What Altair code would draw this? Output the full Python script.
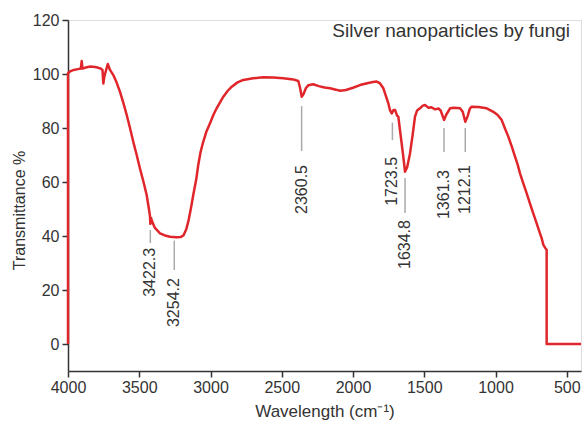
import altair as alt
import pandas as pd

# Spectrum (wavenumber cm-1, transmittance %)
wavenumber = [4000, 4000, 3985, 3960, 3930, 3910, 3904, 3898, 3870, 3840, 3800, 3770, 3758, 3752, 3745,
              3735, 3721, 3705, 3682, 3660, 3635, 3610, 3588, 3565, 3542, 3518, 3495, 3470, 3448, 3432,
              3425, 3422, 3418, 3410, 3390, 3354, 3320, 3284, 3240, 3210, 3190, 3170, 3156, 3140, 3121,
              3100, 3086, 3070, 3051, 3030, 3004, 2980, 2957, 2930, 2910, 2880, 2851, 2810, 2770, 2700,
              2630, 2560, 2489, 2420, 2384, 2372, 2360, 2348, 2330, 2314, 2279, 2240, 2200, 2161, 2120,
              2091, 2050, 2000, 1951, 1900, 1860, 1834, 1810, 1787, 1770, 1752, 1740, 1728, 1715, 1705,
              1690, 1682, 1665, 1647, 1635, 1620, 1600, 1580, 1565, 1550, 1530, 1510, 1495, 1470, 1450,
              1424, 1400, 1385, 1361, 1345, 1319, 1290, 1249, 1230, 1212, 1195, 1180, 1167, 1120, 1062,
              1015, 985, 957, 935, 910, 885, 863, 845, 828, 805, 781, 758, 735, 710, 688,
              675, 664, 650, 641, 641, 400]
transmittance = [0, 100.3, 101, 101.5, 101.8, 102, 104.8, 102, 102.5, 102.8, 102.5, 102, 101.5, 96.5, 99,
                 101, 103.7, 101.5, 99.6, 97, 93.4, 89, 84.8, 80, 74.9, 70, 65, 60, 55.2, 50,
                 47.5, 44.5, 46.8, 45.5, 43, 41, 40.2, 39.7, 39.5, 39.6, 40.2, 42.5, 45.3, 49.5, 55.2,
                 61, 66.3, 71, 74.9, 78.5, 81.7, 84.8, 87.3, 89.8, 91.6, 93.7, 95.3, 96.9, 97.8, 98.4,
                 98.8, 98.7, 98.4, 98, 97.4, 95, 91.6, 92.5, 94.8, 95.8, 96.2, 95.5, 95, 94.7, 94.2,
                 93.8, 94.1, 94.9, 95.9, 96.6, 97, 97.2, 96.5, 94.7, 92, 89.1, 86.5, 85.4, 86.7, 86.7,
                 84.5, 84.2, 77, 69.4, 63.8, 65.5, 70.6, 78, 84.2, 86.5, 87.3, 88.3, 88.5, 87.5, 87.7,
                 86.9, 87.2, 86.5, 83, 85, 87.3, 87.5, 87.3, 86, 82.3, 84.5, 87.2, 87.9, 87.8, 87.3,
                 86, 84.8, 83, 80, 76.8, 73, 69.4, 66.5, 63.2, 59.5, 55.8, 52, 48.4, 44.5, 41,
                 39, 36.7, 35.5, 34.8, 0, 0]

# Peak annotations
peak_pos = [3422.3, 3254.2, 2360.5, 1723.5, 1634.8, 1361.3, 1212.1]
peak_text = ["3422.3", "3254.2", "2360.5", "1723.5", "1634.8", "1361.3", "1212.1"]
line_top = [42.2, 38.3, 88.1, 82.0, 61.5, 80.0, 80.0]
line_bottom = [37.4, 27.4, 71.5, 75.5, 48.5, 71.1, 71.1]
text_top = [35.6, 24.4, 66.3, 69.3, 45.9, 64.4, 66.3]

title_text = "Silver nanoparticles by fungi"
x_ticks = list(range(4000, 499, -250))
y_ticks = list(range(0, 121, 10))

spec = pd.DataFrame({"w": wavenumber, "t": transmittance, "order": list(range(len(wavenumber)))})
peaks = pd.DataFrame({"w": peak_pos, "label": peak_text, "top": line_top,
                      "bottom": line_bottom, "ttop": text_top})

FONT = "Liberation Sans"
AX = "#333333"

xscale = alt.Scale(domain=[400, 4000], reverse=True, nice=False, zero=False)
yscale = alt.Scale(domain=[-10, 120], nice=False, zero=False)

xaxis = alt.Axis(
    values=x_ticks, title="Wavelength (cm⁻¹)", grid=False,
    labelExpr="datum.value % 500 === 0 ? datum.label : ''",
    format="d",
    tickSize={"condition": {"test": "datum.value % 500 === 0", "value": 6}, "value": 3},
    labelFontSize=16, titleFontSize=17, labelFont=FONT, titleFont=FONT,
    labelColor=AX, titleColor=AX, titleFontWeight="normal",
    domainColor=AX, tickColor=AX, domainWidth=1.5, tickWidth=1.5,
    labelPadding=2, titlePadding=8, labelFlush=False, labelOverlap=False,
)
yaxis = alt.Axis(
    values=y_ticks, title="Transmittance %", grid=False,
    labelExpr="datum.value % 20 === 0 ? datum.label : ''",
    tickSize={"condition": {"test": "datum.value % 20 === 0", "value": 6}, "value": 3},
    labelFontSize=16, titleFontSize=16, labelFont=FONT, titleFont=FONT,
    labelColor=AX, titleColor=AX, titleFontWeight="normal",
    domainColor=AX, tickColor=AX, domainWidth=1.5, tickWidth=1.5,
    labelPadding=3, titlePadding=5, titleY=190, labelFlush=False, labelOverlap=False,
)

line = alt.Chart(spec).mark_line(color="#e0262a", strokeWidth=2.5, strokeJoin="round").encode(
    x=alt.X("w:Q", scale=xscale, axis=xaxis),
    y=alt.Y("t:Q", scale=yscale, axis=yaxis),
    order="order:Q",
)

rules = alt.Chart(peaks).mark_rule(color="#aaaaaa", strokeWidth=1.5).encode(
    x=alt.X("w:Q", scale=xscale),
    y=alt.Y("top:Q", scale=yscale),
    y2="bottom:Q",
)

labels = alt.Chart(peaks).mark_text(
    angle=270, align="right", baseline="middle", font=FONT, fontSize=16, color=AX
).encode(
    x=alt.X("w:Q", scale=xscale),
    y=alt.Y("ttop:Q", scale=yscale),
    text="label:N",
)

chart = alt.layer(line, rules, labels).properties(
    width=513, height=351,
    padding={"left": 68, "top": 20, "right": 3, "bottom": 53},
    autosize="none",
    title=alt.TitleParams(title_text, anchor="end", frame="group", font=FONT, fontSize=19,
                          fontWeight="normal", color=AX, dy=33, dx=-11),
).configure_view(stroke=None).configure(background="white")

chart.save("out.html", embed_options={"renderer": "svg", "actions": False})
